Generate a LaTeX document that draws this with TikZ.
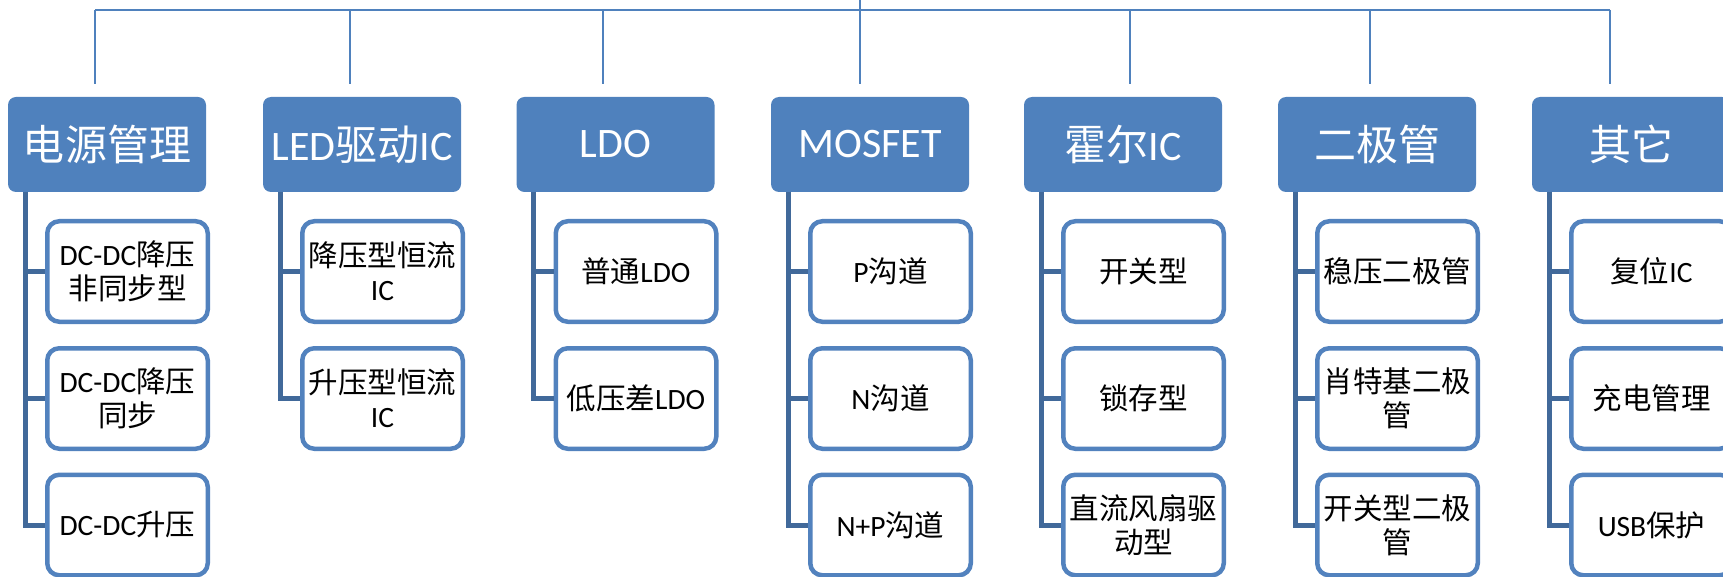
\documentclass[tikz,border=0pt]{standalone}
\usepackage{fontspec}
\setmainfont{Carlito}
\newfontfamily\cjk{Noto Sans CJK SC}
\newcommand{\zh}[1]{{\cjk #1}}
\definecolor{hdrblue}{HTML}{4F81BD}
\definecolor{leafblue}{HTML}{5282BE}
\definecolor{branchblue}{HTML}{41699A}
\tikzset{
  hdr/.style={fill=hdrblue, rounded corners=8pt, minimum width=198pt, minimum height=95pt, inner sep=0pt, text=white, font=\fontsize{42}{50}\selectfont},
  leaf/.style={draw=leafblue, line width=4.5pt, fill=white, rounded corners=12pt, minimum width=160.5pt, minimum height=100.5pt, inner sep=0pt, align=center, font=\fontsize{29.5}{34}\selectfont},
  topline/.style={draw=hdrblue, line width=2.7pt},
  branch/.style={draw=branchblue, line width=5pt},
}
\begin{document}
\begin{tikzpicture}[x=1pt,y=-1pt]
\useasboundingbox (0,0) rectangle (1723,577);
\clip (0,0) rectangle (1723,577);
% top connectors
\coordinate (root) at (860,0);
\coordinate (rootj) at (860,10);
\coordinate (t1) at (95,10);
\coordinate (t7) at (1610,10);
\draw[topline] (root) -- (rootj);
\draw[topline] (t1) -- (t7);
\foreach \x [count=\i] in {95,350,603,860,1130,1370,1610}{
  \coordinate (d\i) at (\x,84);
  \draw[topline] (\x,10) -- (d\i);
}
% headers
\node[hdr] (h1) at (107,144.5) {\zh{电源管理}};
\node[hdr] (h2) at (362,144.5) {LED\zh{驱动}IC};
\node[hdr] (h3) at (615.5,144.5) {LDO};
\node[hdr] (h4) at (870,144.5) {MOSFET};
\node[hdr] (h5) at (1123,144.5) {\zh{霍尔}IC};
\node[hdr] (h6) at (1377,144.5) {\zh{二极管}};
\node[hdr] (h7) at (1631,144.5) {\zh{其它}};
% branch tops
\coordinate (b1) at (25,192);
\coordinate (b2) at (280,192);
\coordinate (b3) at (533.5,192);
\coordinate (b4) at (788,192);
\coordinate (b5) at (1041,192);
\coordinate (b6) at (1295,192);
\coordinate (b7) at (1549,192);
% leaves column 1
\node[leaf] (c11) at (127.5,271.5) {DC-DC\zh{降压}\\\zh{非同步型}};
\node[leaf] (c12) at (127.5,398.5) {DC-DC\zh{降压}\\\zh{同步}};
\node[leaf] (c13) at (127.5,525) {DC-DC\zh{升压}};
% column 2
\node[leaf] (c21) at (382.5,271.5) {\zh{降压型恒流}\\IC};
\node[leaf] (c22) at (382.5,398.5) {\zh{升压型恒流}\\IC};
% column 3
\node[leaf] (c31) at (636,271.5) {\zh{普通}LDO};
\node[leaf] (c32) at (636,398.5) {\zh{低压差}LDO};
% column 4
\node[leaf] (c41) at (890.5,271.5) {P\zh{沟道}};
\node[leaf] (c42) at (890.5,398.5) {N\zh{沟道}};
\node[leaf] (c43) at (890.5,525) {N+P\zh{沟道}};
% column 5
\node[leaf] (c51) at (1143.5,271.5) {\zh{开关型}};
\node[leaf] (c52) at (1143.5,398.5) {\zh{锁存型}};
\node[leaf] (c53) at (1143.5,525) {\zh{直流风扇驱}\\\zh{动型}};
% column 6
\node[leaf] (c61) at (1397.5,271.5) {\zh{稳压二极管}};
\node[leaf] (c62) at (1397.5,398.5) {\zh{肖特基二极}\\\zh{管}};
\node[leaf] (c63) at (1397.5,525) {\zh{开关型二极}\\\zh{管}};
% column 7
\node[leaf] (c71) at (1651.5,271.5) {\zh{复位}IC};
\node[leaf] (c72) at (1651.5,398.5) {\zh{充电管理}};
\node[leaf] (c73) at (1651.5,525) {USB\zh{保护}};
% branches
\foreach \c/\k in {1/1,1/2,1/3,2/1,2/2,3/1,3/2,4/1,4/2,4/3,5/1,5/2,5/3,6/1,6/2,6/3,7/1,7/2,7/3}{
  \draw[branch] (b\c) |- (c\c\k.west);
}
\end{tikzpicture}
\end{document}
